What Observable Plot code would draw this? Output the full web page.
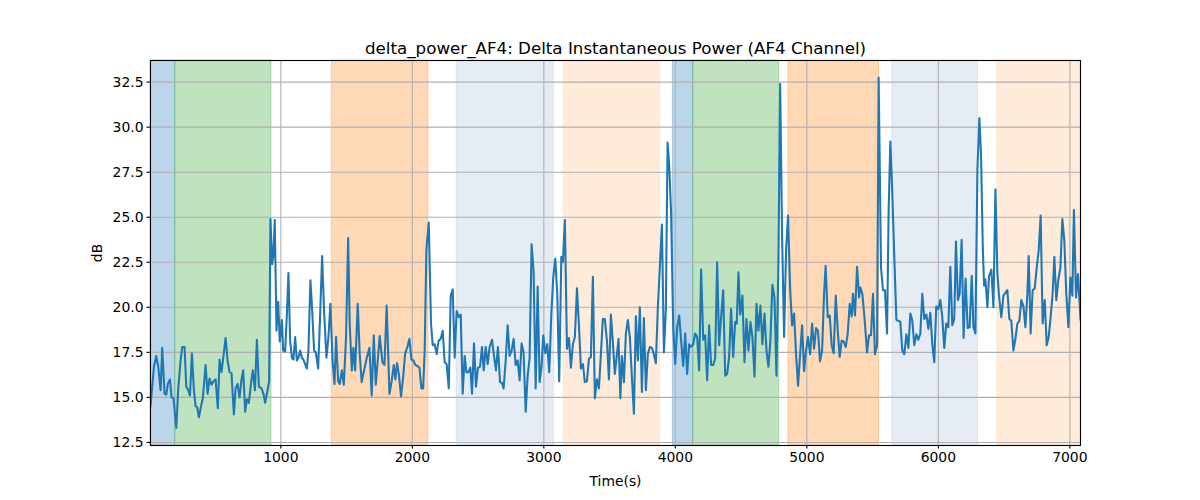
<!DOCTYPE html>
<html>
<head>
<meta charset="utf-8">
<script src="https://cdn.jsdelivr.net/npm/d3@7"></script>
<script src="https://cdn.jsdelivr.net/npm/@observablehq/plot@0.6"></script>
<style>
  html, body { margin: 0; padding: 0; background: #fff; }
  #chart svg { display: block; font-family: "DejaVu Sans", sans-serif; }
</style>
</head>
<body>
<div id="chart"></div>
<script>
const title = "delta_power_AF4: Delta Instantaneous Power (AF4 Channel)";
const xLabel = "Time(s)";
const yLabel = "dB";

const xTicks = [1000, 2000, 3000, 4000, 5000, 6000, 7000];
const yTicks = [12.5, 15.0, 17.5, 20.0, 22.5, 25.0, 27.5, 30.0, 32.5];

// Shaded phases
const spanStarts = [9, 197, 1388, 2337, 3150, 3981, 4136, 4860, 5650, 6449];
const spanEnds   = [197, 929, 2123, 3079, 3885, 4136, 4790, 5549, 6302, 7081];
const spanKinds  = ["blue", "green", "orange", "lightblue", "lightorange",
                    "blue", "green", "orange", "lightblue", "lightorange"];

// Time series (seconds, dB)
const times = [
  9,35,53,68,86,98,116,129,141,157,169,184,205,220,238,250,268,281,296,309,324,339,352,364,377,392,407,428,443,458,473,488,504,521,534,549,564,580,595,610,625,643,656,671,686,701,714,729,742,757,772,787,803,818,833,853,868,881,899,
  911,921,934,942,954,967,980,992,1008,1018,1033,1046,1058,1071,1084,1096,1109,1122,1134,1147,1160,1172,1185,1198,1210,1225,1238,1253,1266,1284,1299,1314,1329,1347,1362,1377,1393,1408,1420,1436,1448,1464,1479,1496,1512,1524,1540,1552,1565,1585,1600,1615,1633,1654,1674,1691,1707,1722,1752,1773,1788,
  1805,1826,1843,1859,1871,1884,1899,1914,1930,1945,1962,1978,1993,2008,2023,2038,2054,2069,2082,2094,2107,2125,2142,2155,2170,2185,2200,2216,2231,2246,2261,2277,2292,2307,2322,2337,2353,2368,2383,2398,2411,2426,2441,2454,2469,2484,2499,2515,2530,2543,2558,2573,2588,2606,2621,2636,2651,2667,2682,
  2694,2710,2725,2740,2755,2770,2786,2801,2816,2831,2846,2862,2877,2892,2907,2922,2938,2953,2968,2983,2996,3011,3026,3041,3057,3072,3087,3102,3117,3133,3145,3160,3176,3191,3206,3221,3236,3252,3267,3282,3297,3312,3328,3343,3358,3373,3388,3404,3419,3434,3449,3464,3480,3495,3510,3525,3540,3556,3568,
  3582,3594,3609,3624,3639,3654,3670,3685,3700,3715,3730,3746,3761,3776,3791,3806,3822,3837,3852,3867,3882,3898,3913,3928,3941,3953,3968,3984,3999,4014,4029,4044,4060,4075,4090,4105,4120,4136,4151,4166,4181,4196,4212,4227,4242,4257,4272,4288,4303,4318,4333,4348,4364,4379,4394,4409,4424,4440,4455,
  4467,4480,4493,4510,4526,4541,4556,4571,4586,4602,4617,4632,4647,4662,4678,4693,4708,4723,4738,4754,4769,4784,4797,4812,4827,4842,4857,4873,4888,4903,4918,4933,4949,4964,4979,4994,5009,5025,5040,5055,5070,5085,5100,5116,5131,5143,5159,5174,5189,5204,5220,5235,5250,5265,5280,5296,5311,5326,5341,
  5351,5366,5382,5397,5407,5422,5437,5458,5473,5488,5503,5518,5534,5546,5564,5579,5594,5610,5622,5635,5650,5665,5681,5696,5711,5726,5741,5757,5772,5787,5802,5817,5833,5848,5863,5878,5893,5909,5924,5939,5954,5969,5984,6000,6015,6030,6045,6060,6076,6091,6106,6121,6134,6149,6162,6177,6192,6207,6223,
  6238,6254,6267,6282,6297,6312,6325,6338,6348,6358,6373,6386,6403,6419,6434,6449,6464,6479,6495,6510,6525,6540,6555,6571,6586,6601,6616,6631,6647,6662,6677,6687,6702,6717,6733,6748,6763,6778,6793,6809,6824,6839,6854,6869,6882,6897,6912,6928,6943,6958,6973,6989,7004,7019,7031,7047,7062,7081
];
const values = [
  14.5,16.7,17.3,16.7,15.4,17.75,15.2,15.15,15.75,16.0,15.0,14.95,13.3,15.5,17.05,17.8,17.8,15.6,15.4,15.1,17.45,15.4,14.5,14.46,13.9,14.46,14.95,16.8,15.2,16.05,15.7,15.9,16.0,14.4,17.1,16.4,17.3,18.3,17.05,16.4,16.35,14.05,15.5,15.75,15.0,16.0,16.5,14.2,14.9,14.7,15.7,16.5,15.4,18.2,15.6,15.5,15.2,14.7,15.4,
  15.9,24.9,22.4,22.8,24.85,18.7,20.3,18.1,19.3,17.6,17.55,19.6,21.9,18.15,17.2,17.1,18.35,17.05,17.2,17.6,17.2,17.1,16.85,16.6,17.6,21.5,19.9,17.6,17.5,16.6,19.6,22.85,19.8,17.2,18.35,20.2,17.05,15.75,18.35,15.9,15.75,16.5,15.7,18.35,23.85,19.05,16.5,17.75,16.5,20.2,17.4,15.85,16.5,17.2,17.75,15.1,18.45,15.7,18.4,16.95,16.8,
  20.1,15.2,15.9,16.8,16.0,16.9,16.2,15.05,16.1,17.4,17.8,18.25,17.1,17.05,16.8,16.75,16.65,15.5,15.5,17.6,23.2,24.7,19.1,17.9,17.95,17.4,18.15,18.25,18.7,16.95,16.85,15.5,20.65,21.0,17.2,19.8,19.45,19.6,15.2,17.3,16.4,16.4,16.65,15.2,18.0,15.6,16.65,16.7,17.8,16.5,17.8,16.85,17.8,18.2,17.3,16.5,17.8,15.85,15.8,
  15.5,17.05,19.0,17.3,17.6,18.25,16.8,17.05,15.95,18.0,17.5,14.2,16.2,17.2,23.5,22.0,15.5,21.15,15.85,16.75,18.45,17.45,17.95,16.4,19.6,21.7,22.7,20.75,15.9,22.8,22.5,24.85,17.7,18.3,16.65,17.95,18.35,21.05,19.0,16.6,16.85,15.85,15.9,17.15,17.25,21.7,14.95,16.0,15.5,17.4,19.35,19.35,18.15,16.0,19.6,18.05,16.3,17.4,18.25,
  14.95,17.3,15.85,18.55,19.3,18.35,16.05,14.1,19.5,17.05,20.0,15.3,19.4,15.4,17.4,17.8,17.75,17.4,16.9,20.0,22.2,24.6,17.5,19.9,29.15,27.95,25.2,18.9,16.85,18.9,19.55,18.15,16.75,18.55,16.3,17.95,17.8,17.95,18.55,18.35,16.5,22.1,18.2,18.45,15.95,19.0,16.8,16.8,17.15,22.5,17.9,19.45,20.95,16.2,16.3,17.25,19.9,17.25,19.2,
  19.1,21.95,19.6,20.65,16.95,19.35,17.6,19.2,18.35,16.15,20.2,18.7,20.1,17.95,19.65,17.6,16.7,18.15,21.25,20.55,16.2,22.6,32.4,23.9,18.35,23.15,25.1,21.0,19.0,19.65,17.4,15.65,17.4,19.0,16.45,17.6,18.35,17.4,19.1,17.7,18.85,18.7,17.0,17.6,20.75,22.3,19.45,19.55,17.9,17.45,20.65,18.7,17.25,18.15,18.1,17.8,18.55,20.2,19.5,
  20.75,19.55,22.25,20.55,21.1,20.75,19.55,17.5,18.45,18.45,20.75,17.4,17.9,32.75,22.2,20.95,20.95,18.55,25.35,29.2,26.3,22.8,19.3,19.25,19.2,17.6,17.4,18.5,17.75,19.65,19.25,17.9,18.5,18.2,18.55,20.75,19.35,19.6,18.8,19.7,17.95,16.95,20.05,19.9,20.4,19.45,17.75,19.1,18.9,22.25,19.0,19.35,23.65,20.4,20.75,23.75,18.3,21.6,18.85,
  18.9,21.75,18.9,18.55,27.6,30.5,28.4,23.3,21.2,21.55,20.0,21.75,22.1,20.0,26.55,21.85,20.45,19.45,20.65,20.8,20.95,19.35,19.25,17.6,18.25,19.1,19.25,20.4,20.05,18.9,20.75,22.85,18.55,20.95,21.05,22.2,23.15,25.1,19.1,20.4,17.9,18.35,19.45,20.75,22.8,20.4,21.5,22.2,24.9,23.7,20.75,18.9,21.65,20.65,25.4,20.55,21.85,19.3
];

// Styles (matplotlib-like)
const kindFill = {
  blue: "#1f77b4", green: "#2ca02c", orange: "#ff7f0e",
  lightblue: "#b0c4de", lightorange: "#ffdab9"
};
const kindAlpha = { blue: 0.3, green: 0.3, orange: 0.3, lightblue: 0.33, lightorange: 0.55 };

const spans = spanStarts.map((s, i) => ({ x1: s, x2: spanEnds[i], kind: spanKinds[i] }));
const series = times.map((t, i) => ({ t, v: values[i] }));

const W = 1200, H = 500;
const mL = 150, mR = 120, mT = 60, mB = 55;

const plot = Plot.plot({
  width: W,
  height: H,
  marginLeft: mL,
  marginRight: mR,
  marginTop: mT,
  marginBottom: mB,
  style: { fontFamily: "DejaVu Sans, sans-serif", fontSize: "13.9px", color: "#000", background: "#fff" },
  x: { domain: [9, 7081] },
  y: { domain: [12.33, 33.7] },
  marks: [
    Plot.rect(spans, {
      x1: "x1", x2: "x2",
      fill: d => kindFill[d.kind], fillOpacity: d => kindAlpha[d.kind],
      stroke: d => kindFill[d.kind], strokeOpacity: d => kindAlpha[d.kind], strokeWidth: 1
    }),
    Plot.gridX(xTicks, { stroke: "#b0b0b0", strokeOpacity: 1, strokeWidth: 1.1 }),
    Plot.gridY(yTicks, { stroke: "#b0b0b0", strokeOpacity: 1, strokeWidth: 1.1 }),
    Plot.line(series, { x: "t", y: "v", stroke: "#1f77b4", strokeWidth: 2.08, clip: true }),
    Plot.frame({ stroke: "#000", strokeWidth: 1.1 }),
    Plot.axisX(xTicks, {
      tickSize: 3.5, tickPadding: 3.5, tickFormat: d3.format("d"), strokeWidth: 1.1,
      label: xLabel, labelAnchor: "center", labelArrow: "none", labelOffset: 40, fontSize: 13.9
    }),
    Plot.axisY(yTicks, {
      tickSize: 3.5, tickPadding: 3.5, tickFormat: d3.format(".1f"), strokeWidth: 1.1,
      label: yLabel, labelAnchor: "center", labelArrow: "none", labelOffset: 58, fontSize: 13.9
    }),
    Plot.text([title], { frameAnchor: "top", dy: -18, fontSize: 16.7, fill: "#000", text: d => d })
  ]
});
plot.setAttribute("font-family", "DejaVu Sans, sans-serif");
document.getElementById("chart").appendChild(plot);
</script>
</body>
</html>
